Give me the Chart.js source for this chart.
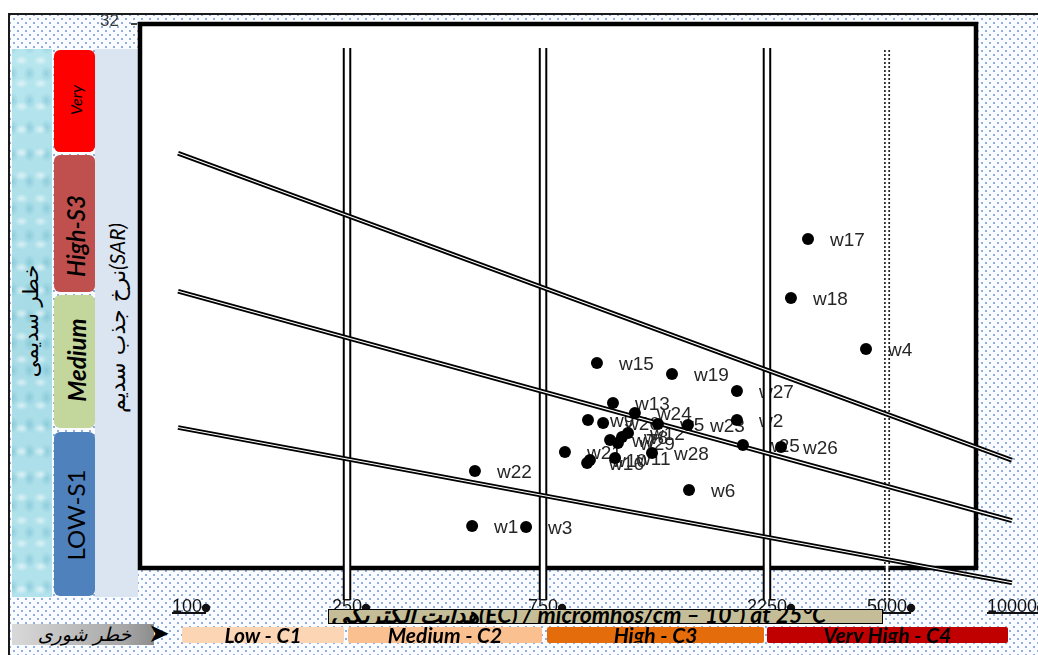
<!DOCTYPE html>
<html>
<head>
<meta charset="utf-8">
<script src="https://cdn.jsdelivr.net/npm/chart.js@4.4.1/dist/chart.umd.min.js"></script>
<style>
html,body{margin:0;padding:0;width:1038px;height:655px;overflow:hidden;background:#fff;}
#frame{position:absolute;left:8px;top:13px;width:1040px;height:650px;border-left:2px solid #1a1a1a;border-top:2px solid #1a1a1a;
 background-color:#fbfcff;
 background-image:radial-gradient(circle, #8fb0df 0.9px, transparent 1.5px), radial-gradient(circle, #8fb0df 0.9px, transparent 1.5px);
 background-size:8px 8px; background-position:0 0, 4px 4px;}
#water{position:absolute;left:12px;top:49px;width:40px;height:548px;
 background:
 radial-gradient(ellipse 7px 5px at 50% 50%, rgba(255,255,255,.55), transparent) 0 0/19px 23px,
 radial-gradient(ellipse 6px 8px at 50% 50%, rgba(70,160,185,.30), transparent) 9px 11px/17px 27px,
 linear-gradient(180deg,#b7e6ee,#a6dbe6 50%,#b2e3ec);}
#sarCol{position:absolute;left:95px;top:49px;width:43px;height:548px;background:#dbe5f1;}
.sbox{position:absolute;left:54px;width:41px;border-radius:6px;}
.rot{position:absolute;transform:translate(-50%,-50%) rotate(-90deg);white-space:nowrap;color:#000;}
.lat{font-family:Lato,'DejaVu Sans',sans-serif;}
.fa{font-family:'DejaVu Sans',sans-serif;}
#salBox{position:absolute;left:12px;top:624px;width:142px;height:21px;
 background:linear-gradient(90deg,#d9d9d9,#bfbfbf 40%,#a6a6a6 80%,#8c8c8c);filter:blur(0.4px);}
#salTxt{position:absolute;left:22px;top:623px;width:125px;text-align:center;font-family:'DejaVu Sans',sans-serif;font-style:italic;font-size:19px;line-height:22px;color:#000;}
#salArrow{position:absolute;left:148px;top:619px;font-family:'DejaVu Sans',sans-serif;font-size:26px;line-height:28px;color:#000;}
.cbar{position:absolute;top:627px;height:16px;overflow:hidden;border-radius:2px;text-align:center;
 font-family:Lato,sans-serif;font-weight:bold;font-style:italic;font-size:21px;line-height:16px;color:#000;z-index:3;}
#tan{position:absolute;left:328px;top:609px;width:555px;height:15px;box-sizing:border-box;border:1.5px solid #000;background:#c4bd97;overflow:hidden;z-index:3;}
#tanTxt{position:absolute;left:2px;top:-7px;white-space:nowrap;direction:ltr;font-family:Lato,'DejaVu Sans',sans-serif;font-weight:bold;font-style:italic;font-size:23px;line-height:22px;color:#000;}
#c{position:absolute;left:0;top:0;z-index:2;}
</style>
</head>
<body>
<div id="frame"></div>
<div id="water"></div>
<div id="sarCol"></div>
<div class="sbox" style="top:50px;height:102px;background:#ff0000;"></div>
<div class="sbox" style="top:155px;height:137px;background:#c0504d;"></div>
<div class="sbox" style="top:295px;height:133px;background:#c3d69b;"></div>
<div class="sbox" style="top:432px;height:164px;background:#4f81bd;"></div>
<div class="rot lat" style="left:75px;top:100px;font-style:italic;font-size:16px;">Very</div>
<div class="rot lat" style="left:75px;top:236px;font-style:italic;font-weight:600;font-size:24px;">High-S3</div>
<div class="rot lat" style="left:76px;top:360px;font-style:italic;font-weight:bold;font-size:24px;">Medium</div>
<div class="rot lat" style="left:75px;top:515px;font-size:24px;">LOW-S1</div>
<div class="rot fa" style="left:117px;top:318px;font-size:22px;direction:ltr;"><span dir="rtl">نرخ جذب سدیم</span><span class="lat" style="font-style:italic;font-size:21px;">(SAR)</span></div>
<div class="rot fa" style="left:31px;top:321px;font-size:21px;" dir="rtl">خطر سدیمی</div>
<div id="salBox"></div>
<div id="salTxt" dir="rtl">خطر شوری</div>
<div id="salArrow">➤</div>
<div id="tan"><div id="tanTxt"><span dir="rtl">هدایت الکتریکی</span>(EC) / micromhos/cm – 10⁶) at 25°C</div></div>
<div class="cbar" style="left:182px;width:162px;background:#fcd5b4;">Low - C1</div>
<div class="cbar" style="left:348px;width:194px;background:#fac090;">Medium - C2</div>
<div class="cbar" style="left:547px;width:217px;background:#e46c0a;">High - C3</div>
<div class="cbar" style="left:767px;width:241px;background:#c00000;">Very High - C4</div>
<canvas id="c" width="1038" height="655"></canvas>
<script>
// ---------------- data ----------------
const wellNames = ['w1','w2','w3','w4','w5','w6','w7','w8','w9','w10','w11','w12','w13','w15','w16','w17','w18','w19','w20','w21','w22','w23','w24','w25','w26','w27','w28','w29'];
const wellEC    = [504, 1942, 682, 4347, 1318, 1535, 1042, 1105, 935, 944, 1068, 1138, 1057, 977, 931, 2956, 2639, 1412, 1007, 835, 512, 1527, 1177, 2000, 2470, 1942, 1280, 1083];
const wellSAR   = [4.29, 10.43, 4.23, 14.55, 10.2, 6.38, 9.28, 9.45, 10.43, 8.12, 8.23, 9.68, 11.42, 13.74, 7.94, 20.93, 17.51, 13.10, 10.26, 8.58, 7.48, 10.14, 10.84, 8.99, 8.87, 12.12, 8.52, 9.10];

// sodium hazard boundary lines (EC at both ends, SAR at both ends)
const sarLineEC   = [95, 10000];
const sarLineS1S2 = [10.0, 1.0];
const sarLineS2S3 = [17.9, 4.6];
const sarLineS3S4 = [25.9, 8.1];

// salinity hazard boundaries
const ecBoundaries = [250, 750, 2250];
const ecDotted = [5000];
const ecBoundarySAR = [0, 32];

// tick labels
const xTickValues = [100, 250, 750, 2250, 5000, 10000];
const xTickLabels = ['100', '250', '750', '2250', '5000', '10000'];
const yTickLabels = ['32'];

// ---------------- segmented log scale (template axis) ----------------
const X_SCALE_STOPS = [0.0539, 0.2374, 0.4622, 0.7190, 0.8567, 1.0];
function ecToFrac(v) {
  const n = xTickValues.length;
  let i = 0;
  if (v <= xTickValues[0]) i = 0;
  else if (v >= xTickValues[n-1]) i = n-2;
  else { while (i < n-2 && v > xTickValues[i+1]) i++; }
  const va = xTickValues[i], vb = xTickValues[i+1];
  const fa = X_SCALE_STOPS[i], fb = X_SCALE_STOPS[i+1];
  return fa + (fb - fa) * Math.log(v / va) / Math.log(vb / va);
}
function fracToEc(f) {
  const n = xTickValues.length;
  let i = 0;
  if (f <= X_SCALE_STOPS[0]) i = 0;
  else if (f >= X_SCALE_STOPS[n-1]) i = n-2;
  else { while (i < n-2 && f > X_SCALE_STOPS[i+1]) i++; }
  const va = xTickValues[i], vb = xTickValues[i+1];
  const fa = X_SCALE_STOPS[i], fb = X_SCALE_STOPS[i+1];
  return va * Math.pow(vb / va, (f - fa) / (fb - fa));
}
class SegmentedLogScale extends Chart.LinearScale {
  static id = 'segmentedLog';
  static defaults = {};
  getPixelForValue(value) { return this.getPixelForDecimal(ecToFrac(value)); }
  getValueForPixel(pixel) { return fracToEc(this.getDecimalForPixel(pixel)); }
}
Chart.register(SegmentedLogScale);

// ---------------- datasets ----------------
const datasets = [];
datasets.push({
  label: 'wells',
  data: wellEC.map((x, i) => ({x, y: wellSAR[i]})),
  pointRadius: 6, pointBackgroundColor: '#000', pointBorderWidth: 0, pointHoverRadius: 6,
  order: 0, clip: false
});
[sarLineS1S2, sarLineS2S3, sarLineS3S4].forEach(l => {
  const d = sarLineEC.map((x, i) => ({x, y: l[i]}));
  datasets.push({data: d, showLine: true, pointRadius: 0, borderColor: '#000', borderWidth: 4.8, order: 4, clip: false});
  datasets.push({data: d, showLine: true, pointRadius: 0, borderColor: '#fff', borderWidth: 1.2, order: 3, clip: false});
});
ecBoundaries.forEach(ec => {
  const d = ecBoundarySAR.map(y => ({x: ec, y}));
  datasets.push({data: d, showLine: true, pointRadius: 0, borderColor: '#000', borderWidth: 8.5, order: 6, clip: false});
  datasets.push({data: d, showLine: true, pointRadius: 0, borderColor: '#fff', borderWidth: 4.5, order: 5, clip: false});
});
ecDotted.forEach(ec => {
  const d = ecBoundarySAR.map(y => ({x: ec, y}));
  datasets.push({data: d, showLine: true, pointRadius: 0, borderColor: '#222', borderWidth: 6, borderDash: [2, 2], order: 6, clip: false});
  datasets.push({data: d, showLine: true, pointRadius: 0, borderColor: '#fff', borderWidth: 2.6, order: 5, clip: false});
});

// ---------------- decoration plugin ----------------
const decor = {
  id: 'decor',
  beforeDatasetsDraw(chart) {
    const ctx = chart.ctx, a = chart.chartArea;
    const box = {l: a.left, t: 24, r: 976, b: 568};
    ctx.save();
    ctx.fillStyle = '#fff';
    ctx.fillRect(box.l, box.t, box.r - box.l, box.b - box.t);
    ctx.strokeStyle = '#000';
    ctx.lineWidth = 4.5;
    ctx.strokeRect(box.l, box.t, box.r - box.l, box.b - box.t);
    // y tick label "32"
    ctx.fillStyle = '#3a3a3a';
    ctx.font = '17px "Liberation Sans", Arial, sans-serif';
    ctx.textAlign = 'right';
    ctx.textBaseline = 'middle';
    ctx.fillText(yTickLabels[0], 119, 21);
    ctx.strokeStyle = '#000'; ctx.lineWidth = 1.5;
    ctx.beginPath(); ctx.moveTo(131, 24); ctx.lineTo(137, 24); ctx.stroke();
    // well labels
    const meta = chart.getDatasetMeta(0);
    ctx.fillStyle = '#262626';
    ctx.font = '19px "Liberation Sans", Arial, sans-serif';
    ctx.textAlign = 'left';
    meta.data.forEach((el, i) => { ctx.fillText(wellNames[i], el.x + 22, el.y + 2); });
    ctx.restore();
  },
  afterDraw(chart) {
    const ctx = chart.ctx, xs = chart.scales.x;
    ctx.save();
    ctx.font = '18px "Liberation Sans", Arial, sans-serif';
    ctx.fillStyle = '#111';
    ctx.textAlign = 'center';
    ctx.textBaseline = 'alphabetic';
    xTickValues.forEach((v, i) => {
      const px = xs.getPixelForValue(v);
      const w = ctx.measureText(xTickLabels[i]).width;
      ctx.fillText(xTickLabels[i], px, 612);
      ctx.fillRect(px - w / 2, 612, w + 4, 2);
      ctx.beginPath(); ctx.arc(px + w / 2 + 4, 608, 4.2, 0, Math.PI * 2); ctx.fill();
    });
    ctx.restore();
  }
};

new Chart(document.getElementById('c'), {
  type: 'scatter',
  data: {datasets},
  options: {
    responsive: false, animation: false, devicePixelRatio: 1, events: [],
    layout: {padding: {left: 140, right: 26, top: 48, bottom: 55}},
    scales: {
      x: {type: 'segmentedLog', display: false, min: 76.4, max: 10000},
      y: {type: 'linear', display: false, min: 0, max: 32}
    },
    plugins: {legend: {display: false}, tooltip: {enabled: false}}
  },
  plugins: [decor]
});
</script>
</body>
</html>
